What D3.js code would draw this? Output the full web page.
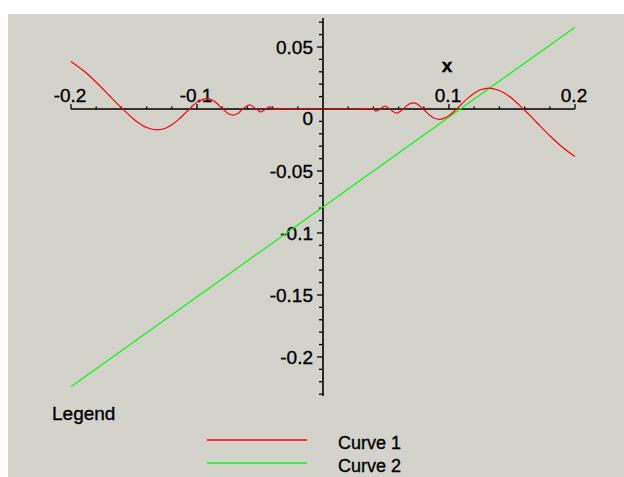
<!DOCTYPE html>
<html>
<head>
<meta charset="utf-8">
<script src="https://cdn.jsdelivr.net/npm/d3@7"></script>
<style>
  html, body { margin: 0; padding: 0; background: #ffffff; }
  text { font-family: "Liberation Sans", Arial, sans-serif; fill: #000; stroke: #000; stroke-width: 0.35px; }
</style>
</head>
<body>
<script>
// Canvas size
var w = 624;
var h = 477;

// Curve 1 (red)
var curve1X = [-0.2, -0.19, -0.18, -0.17, -0.165, -0.159, -0.15, -0.145, -0.14, -0.132, -0.125, -0.12, -0.115, -0.11, -0.106,
  -0.1, -0.0925, -0.088, -0.085, -0.0796, -0.075, -0.0715, -0.068, -0.0637, -0.0583, -0.053, -0.0492, -0.0455, -0.042, -0.0393,
  -0.03, -0.02, -0.01, 0, 0.01, 0.02, 0.03,
  0.0393, 0.042, 0.0455, 0.0492, 0.053, 0.0583, 0.0637, 0.068, 0.0715, 0.075, 0.0796, 0.085, 0.088, 0.0925, 0.1,
  0.106, 0.11, 0.115, 0.12, 0.125, 0.132, 0.14, 0.145, 0.15, 0.159, 0.165, 0.17, 0.18, 0.19, 0.2];
var curve1Y = [0.0384, 0.0308, 0.0216, 0.0113, 0.006, 0, -0.0084, -0.0121, -0.0149, -0.0168, -0.0155, -0.0128, -0.0088, -0.004, 0,
  0.0054, 0.0084, 0.0072, 0.0052, 0, -0.0039, -0.0050, -0.0039, 0, 0.0034, 0, -0.0024, 0, 0.0017, 0,
  0, 0, 0, 0, 0, 0, 0,
  0, -0.0017, 0, 0.0024, 0, -0.0034, 0, 0.0039, 0.0050, 0.0039, 0, -0.0052, -0.0072, -0.0084, -0.0054,
  0, 0.004, 0.0088, 0.0128, 0.0155, 0.0168, 0.0149, 0.0121, 0.0084, 0, -0.006, -0.0113, -0.0216, -0.0308, -0.0384];

// Curve 2 (green), straight line
var curve2X = [-0.2, 0, 0.2];
var curve2Y = [-0.224, -0.079, 0.066];

// Axis ticks
var xMajor = [-0.2, -0.1, 0.1, 0.2];
var xMajorLabels = ["-0.2", "-0.1", "0.1", "0.2"];
var yMajor = [0.05, 0, -0.05, -0.1, -0.15, -0.2];
var yMajorLabels = ["0.05", "0", "-0.05", "-0.1", "-0.15", "-0.2"];

var legendNames = ["Curve 1", "Curve 2"];
var legendColors = ["#ff0000", "#00ff00"];

var x = d3.scaleLinear().domain([-0.2, 0.2]).range([71, 575]);
var y = d3.scaleLinear().domain([-0.2315, 0.0734]).range([396, 18]);

var svg = d3.select("body")
    .append("svg")
    .attr("width", w)
    .attr("height", h);

// gray plot background
svg.append("rect")
    .attr("x", 8).attr("y", 14)
    .attr("width", w - 8).attr("height", h - 14)
    .attr("fill", "#d3d2cb");

var axes = svg.append("g").attr("stroke", "#000");

// x axis line through y = 0
axes.append("line")
    .attr("x1", x(-0.2)).attr("x2", x(0.2))
    .attr("y1", y(0)).attr("y2", y(0))
    .attr("stroke-width", 1.6);

// y axis line through x = 0
axes.append("line")
    .attr("x1", x(0)).attr("x2", x(0))
    .attr("y1", y.range()[1]).attr("y2", y.range()[0])
    .attr("stroke-width", 1.6);

// x minor ticks every 0.02, major every 0.1 (pointing up)
var xTicks = d3.range(-10, 11).map(function(i) { return i * 0.02; });
axes.selectAll(".xt")
    .data(xTicks.filter(function(d) { return Math.abs(d) > 1e-9; }))
    .enter().append("line")
    .attr("x1", function(d) { return x(d); })
    .attr("x2", function(d) { return x(d); })
    .attr("y1", y(0))
    .attr("y2", function(d) {
        var major = Math.abs(Math.round(d * 10) - d * 10) < 1e-6;
        return y(0) - (major ? 5 : 2.5);
    })
    .attr("stroke-width", 1.3);

// y minor ticks every 0.01, major every 0.05 (pointing left)
var yTicks = d3.range(-23, 8).map(function(i) { return i * 0.01; });
axes.selectAll(".yt")
    .data(yTicks.filter(function(d) { return Math.abs(d) > 1e-9; }))
    .enter().append("line")
    .attr("y1", function(d) { return y(d); })
    .attr("y2", function(d) { return y(d); })
    .attr("x1", x(0))
    .attr("x2", function(d) {
        var major = Math.abs(Math.round(d * 20) - d * 20) < 1e-6;
        return x(0) - (major ? 6 : 4);
    })
    .attr("stroke-width", 1.3);

// x tick labels, above the axis
svg.selectAll(".xl")
    .data(xMajor)
    .enter().append("text")
    .attr("x", function(d) { return x(d) - 1; })
    .attr("y", y(0) - 7)
    .attr("text-anchor", "middle")
    .attr("font-size", "19px")
    .text(function(d, i) { return xMajorLabels[i]; });

// y tick labels, right aligned
svg.selectAll(".yl")
    .data(yMajor)
    .enter().append("text")
    .attr("x", x(0) - 10)
    .attr("y", function(d) { return d === 0 ? y(d) + 16 : y(d) + 7; })
    .attr("text-anchor", "end")
    .attr("font-size", "19px")
    .text(function(d, i) { return yMajorLabels[i]; });

// axis label
svg.append("text")
    .attr("x", 447).attr("y", 72)
    .attr("text-anchor", "middle")
    .attr("font-size", "19px")
    .attr("font-weight", "bold")
    .text("x");

// curves
var line = d3.line()
    .x(function(d) { return x(d[0]); })
    .y(function(d) { return y(d[1]); });

svg.append("path")
    .datum(d3.zip(curve2X, curve2Y))
    .attr("fill", "none")
    .attr("stroke", legendColors[1])
    .attr("stroke-width", 1.2)
    .attr("d", line);

svg.append("path")
    .datum(d3.zip(curve1X, curve1Y))
    .attr("fill", "none")
    .attr("stroke", legendColors[0])
    .attr("stroke-width", 1.2)
    .attr("d", line.curve(d3.curveCatmullRom));

// legend
svg.append("text")
    .attr("x", 52).attr("y", 420)
    .attr("font-size", "19px")
    .text("Legend");

var leg = svg.selectAll(".leg")
    .data(legendNames)
    .enter().append("g")
    .attr("transform", function(d, i) { return "translate(0," + (440 + i * 23) + ")"; });

leg.append("line")
    .attr("x1", 207).attr("x2", 307)
    .attr("y1", 0).attr("y2", 0)
    .attr("stroke", function(d, i) { return legendColors[i]; })
    .attr("stroke-width", 1.5);

leg.append("text")
    .attr("x", 338).attr("y", 9)
    .attr("font-size", "18px")
    .text(function(d) { return d; });
</script>
</body>
</html>
